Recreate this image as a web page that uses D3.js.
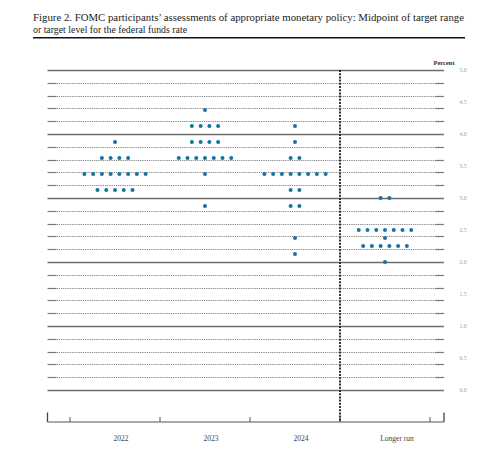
<!DOCTYPE html>
<html>
<head>
<meta charset="utf-8">
<script src="https://cdn.jsdelivr.net/npm/d3@7"></script>
<style>
  body { margin: 0; background: #fff; }
  svg { display: block; }
</style>
</head>
<body>
<div id="plotarea"></div>
<script>
// columns of the dot plot
var categories = ["2022", "2023", "2024", "Longer run"];

// one entry per participant (midpoint of target range, percent)
var dots2022 = [3.875,
  3.625, 3.625, 3.625, 3.625,
  3.375, 3.375, 3.375, 3.375, 3.375, 3.375, 3.375, 3.375,
  3.125, 3.125, 3.125, 3.125, 3.125];
var dots2023 = [4.375,
  4.125, 4.125, 4.125, 4.125,
  3.875, 3.875, 3.875, 3.875,
  3.625, 3.625, 3.625, 3.625, 3.625, 3.625, 3.625,
  3.375,
  2.875];
var dots2024 = [4.125,
  3.875,
  3.625, 3.625,
  3.375, 3.375, 3.375, 3.375, 3.375, 3.375, 3.375, 3.375,
  3.125, 3.125,
  2.875, 2.875,
  2.375,
  2.125];
var dotsLonger = [3.0, 3.0,
  2.5, 2.5, 2.5, 2.5, 2.5, 2.5, 2.5,
  2.375,
  2.25, 2.25, 2.25, 2.25, 2.25, 2.25,
  2.0];
var seriesValues = [dots2022, dots2023, dots2024, dotsLonger];

var yLabels = ["0.0", "0.5", "1.0", "1.5", "2.0", "2.5", "3.0", "3.5", "4.0", "4.5", "5.0"];

var titleLines = [
  "Figure 2.  FOMC participants\u2019 assessments of appropriate monetary policy:  Midpoint of target range",
  "or target level for the federal funds rate"
];

var W = 481, H = 454;
var left = 47.5, right = 444, axisY = 422;

var svg = d3.select("#plotarea").append("svg")
  .attr("width", W)
  .attr("height", H);

// title
svg.append("text")
  .attr("x", 33).attr("y", 21)
  .attr("textLength", 431).attr("lengthAdjust", "spacingAndGlyphs")
  .style("font-family", "'Liberation Serif', serif")
  .style("font-size", "10.5px")
  .attr("fill", "#222")
  .text(titleLines[0]);
svg.append("text")
  .attr("x", 33).attr("y", 33)
  .attr("textLength", 154).attr("lengthAdjust", "spacingAndGlyphs")
  .style("font-family", "'Liberation Serif', serif")
  .style("font-size", "10.5px")
  .attr("fill", "#222")
  .text(titleLines[1]);
svg.append("line")
  .attr("x1", 33).attr("x2", 465)
  .attr("y1", 37.8).attr("y2", 37.8)
  .attr("stroke", "#111").attr("stroke-width", 1.5);

var x = d3.scaleBand().domain(categories).range([70, 430]).padding(0);
var y = d3.scaleLinear().domain([0, 5]).range([390, 70]);

// grid lines: solid at whole percents, dotted at quarters
var grid = svg.append("g");
y.ticks(20).forEach(function(v) {
  var yy = Math.round(y(v)) + 0.5;
  var whole = Math.abs(v - Math.round(v)) < 1e-9;
  if (whole) {
    grid.append("line")
      .attr("x1", left).attr("x2", right).attr("y1", yy).attr("y2", yy)
      .attr("stroke", "#6e6e6e").attr("stroke-width", 1.4);
  } else {
    grid.append("line")
      .attr("x1", left + 9).attr("x2", right - 9).attr("y1", yy).attr("y2", yy)
      .attr("stroke", "#8c8c8c").attr("stroke-width", 1.2)
      .attr("stroke-dasharray", "1.3,0.9");
    grid.append("line")
      .attr("x1", left).attr("x2", left + 9).attr("y1", yy).attr("y2", yy)
      .attr("stroke", "#7a7a7a").attr("stroke-width", 1.2);
    grid.append("line")
      .attr("x1", right - 9).attr("x2", right).attr("y1", yy).attr("y2", yy)
      .attr("stroke", "#7a7a7a").attr("stroke-width", 1.2);
  }
});

// right-hand tick labels
svg.append("g").selectAll("text")
  .data(yLabels).enter().append("text")
  .attr("x", 463)
  .attr("y", function(d) { return y(+d) + 2; })
  .attr("text-anchor", "middle")
  .style("font-family", "'Liberation Serif', serif")
  .style("font-size", "5.5px")
  .attr("fill", "#9a9a9a")
  .text(function(d) { return d; });

svg.append("text")
  .attr("x", 444).attr("y", 65)
  .attr("text-anchor", "middle")
  .style("font-family", "'Liberation Serif', serif")
  .style("font-size", "6.5px")
  .style("font-weight", "bold")
  .attr("fill", "#333")
  .text("Percent");

// bottom axis
var axis = svg.append("g");
axis.append("line")
  .attr("x1", left).attr("x2", right).attr("y1", axisY).attr("y2", axisY)
  .attr("stroke", "#555").attr("stroke-width", 1.1);
[left, right].forEach(function(px) {
  axis.append("line")
    .attr("x1", px).attr("x2", px).attr("y1", 412.5).attr("y2", axisY)
    .attr("stroke", "#444").attr("stroke-width", 1.3);
});
var bounds = categories.map(function(c) { return x(c); }).concat([x(categories[3]) + x.bandwidth()]);
bounds.forEach(function(px) {
  axis.append("line")
    .attr("x1", px).attr("x2", px).attr("y1", 417).attr("y2", axisY)
    .attr("stroke", "#555").attr("stroke-width", 1);
});

// separator before longer run
svg.append("line")
  .attr("x1", x("Longer run")).attr("x2", x("Longer run"))
  .attr("y1", y(5)).attr("y2", axisY)
  .attr("stroke", "#111").attr("stroke-width", 1.7)
  .attr("stroke-dasharray", "2,1.2");

// category labels
var labelShift = [6, 6, 6, 12];
svg.append("g").selectAll("text")
  .data(categories).enter().append("text")
  .attr("x", function(d, i) { return x(d) + x.bandwidth() / 2 + labelShift[i]; })
  .attr("y", 440.5)
  .attr("text-anchor", "middle")
  .style("font-family", "'Liberation Serif', serif")
  .style("font-size", "7.5px")
  .attr("fill", "#444")
  .text(function(d) { return d; });

// dots
var step = 8.75;
var dotG = svg.append("g");
seriesValues.forEach(function(vals, ci) {
  var cx0 = x(categories[ci]) + x.bandwidth() / 2;
  var groups = d3.groups(vals, function(v) { return v; });
  groups.forEach(function(g) {
    var n = g[1].length;
    g[1].forEach(function(v, k) {
      dotG.append("circle")
        .attr("cx", cx0 + (k - (n - 1) / 2) * step)
        .attr("cy", y(v))
        .attr("r", 2)
        .attr("fill", "#17739f");
    });
  });
});
</script>
</body>
</html>
